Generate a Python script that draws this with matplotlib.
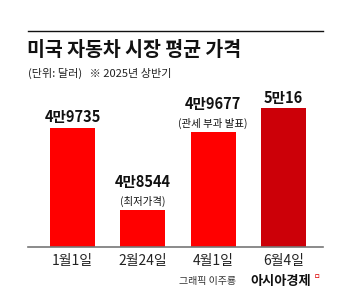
import matplotlib.pyplot as plt

plt.rcParams['font.family'] = ['Noto Sans CJK KR', 'DejaVu Sans']

# data
dates = ['1월1일', '2월24일', '4월1일', '6월4일']
prices = [49735, 48544, 49677, 50016]
value_labels = ['4만9735', '4만8544', '4만9677', '5만16']
notes = ['', '(최저가격)', '(관세 부과 발표)', '']
colors = ['#ff0000', '#ff0000', '#ff0000', '#cc0008']

W, H = 351, 297
fig = plt.figure(figsize=(W / 100, H / 100), dpi=100)
fig.patch.set_facecolor('white')

def fx(px):
    return px / W

def fy(py):
    return 1 - py / H

ax = fig.add_axes([fx(28), fy(247), fx(323) - fx(28), fy(31) - fy(247)])
base = 48000
ax.bar(range(len(prices)), [p - base for p in prices], width=0.64,
       bottom=base, color=colors, zorder=2)
ax.set_xlim(-0.633, 3.563)
ax.set_ylim(base, 51140)
for s in ['top', 'left', 'right']:
    ax.spines[s].set_visible(False)
ax.spines['bottom'].set_color('#777777')
ax.spines['bottom'].set_linewidth(1.2)
ax.set_yticks([])
ax.set_xticks(range(len(dates)))
ax.set_xticklabels(dates, fontsize=10, color='#222222')
ax.tick_params(axis='x', length=0, pad=5)

for i, p in enumerate(prices):
    off = 14 if notes[i] else 2
    ax.annotate(value_labels[i], (i, p), xytext=(0, off), textcoords='offset points',
                ha='center', va='bottom', fontsize=10.5, fontweight='bold', color='#111111')
    if notes[i]:
        ax.annotate(notes[i], (i, p), xytext=(0, 2), textcoords='offset points',
                    ha='center', va='bottom', fontsize=7.5, color='#111111')

# header
fig.add_artist(plt.Line2D([fx(28), fx(323)], [fy(31), fy(31)], color='#111111', lw=1))
fig.text(fx(27), fy(50), '미국 자동차 시장 평균 가격', fontsize=14, fontweight='bold',
         ha='left', va='center', color='#111111')
fig.text(fx(28), fy(73), '(단위: 달러)   ※ 2025년 상반기', fontsize=8,
         ha='left', va='center', color='#222222')

# credit
fig.text(fx(236), fy(281), '그래픽 이주룡', fontsize=7.2, ha='right', va='center', color='#333333')
fig.text(fx(250), fy(281), '아시아경제', fontsize=9.5, fontweight='bold',
         ha='left', va='center', color='#111111')
fig.text(fx(314), fy(277), 'ㅁ', fontsize=5, ha='left', va='center', color='#dd0000')

fig.savefig('out.png', dpi=100)
